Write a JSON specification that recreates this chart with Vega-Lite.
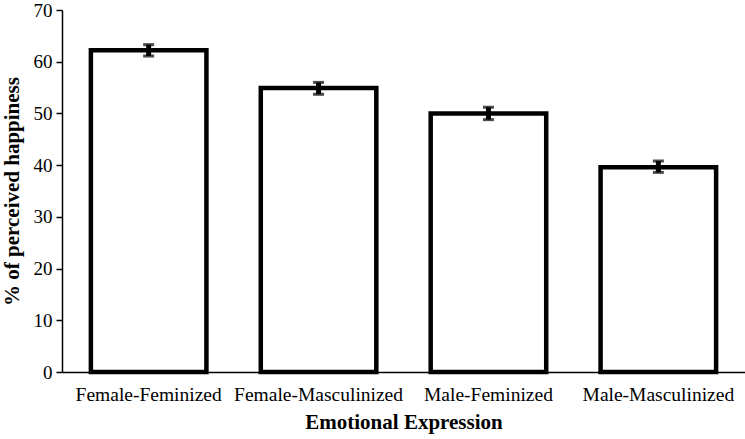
{
  "$schema": "https://vega.github.io/schema/vega-lite/v6.json",
  "width": 683,
  "height": 362,
  "autosize": {"type": "none"},
  "padding": {"left": 62, "top": 10, "right": 0, "bottom": 67},
  "background": "white",
  "config": {
    "view": {"stroke": null},
    "font": "Liberation Serif"
  },
  "data": {
    "values": [
      {"group": "Female-Feminized", "value": 62.2, "lo": 61.1, "hi": 63.3},
      {"group": "Female-Masculinized", "value": 54.9, "lo": 53.7, "hi": 56.0},
      {"group": "Male-Feminized", "value": 50.0, "lo": 48.8, "hi": 51.2},
      {"group": "Male-Masculinized", "value": 39.6, "lo": 38.6, "hi": 40.8}
    ]
  },
  "encoding": {
    "x": {
      "field": "group",
      "type": "nominal",
      "sort": null,
      "scale": {"paddingInner": 0.32, "paddingOuter": 0.17},
      "axis": {
        "title": "Emotional Expression",
        "titleFont": "Liberation Serif",
        "titleFontSize": 21,
        "titleFontWeight": "bold",
        "titleColor": "black",
        "titlePadding": 8,
        "labelFont": "Liberation Serif",
        "labelFontSize": 19.5,
        "labelColor": "black",
        "labelAngle": 0,
        "labelPadding": 13,
        "ticks": false,
        "domainColor": "black",
        "domainWidth": 1.5
      }
    }
  },
  "layer": [
    {
      "mark": {"type": "bar", "fill": "white", "stroke": "black", "strokeWidth": 4.5, "strokeJoin": "miter"},
      "encoding": {
        "y": {
          "field": "value",
          "type": "quantitative",
          "scale": {"domain": [0, 70], "nice": false},
          "axis": {
            "title": "% of perceived happiness",
            "titleFont": "Liberation Serif",
            "titleFontSize": 21,
            "titleFontWeight": "bold",
            "titleColor": "black",
            "titlePadding": 11,
            "labelFont": "Liberation Serif",
            "labelFontSize": 19,
            "labelColor": "black",
            "labelPadding": 4,
            "values": [0, 10, 20, 30, 40, 50, 60, 70],
            "grid": false,
            "tickColor": "black",
            "tickSize": 6,
            "tickWidth": 1.5,
            "domainColor": "black",
            "domainWidth": 1.5
          }
        }
      }
    },
    {
      "mark": {"type": "rule", "stroke": "black", "strokeWidth": 5},
      "encoding": {
        "y": {"field": "lo", "type": "quantitative"},
        "y2": {"field": "hi"}
      }
    },
    {
      "mark": {"type": "tick", "color": "black", "size": 11, "thickness": 3},
      "encoding": {"y": {"field": "lo", "type": "quantitative"}}
    },
    {
      "mark": {"type": "tick", "color": "black", "size": 11, "thickness": 3},
      "encoding": {"y": {"field": "hi", "type": "quantitative"}}
    }
  ]
}
